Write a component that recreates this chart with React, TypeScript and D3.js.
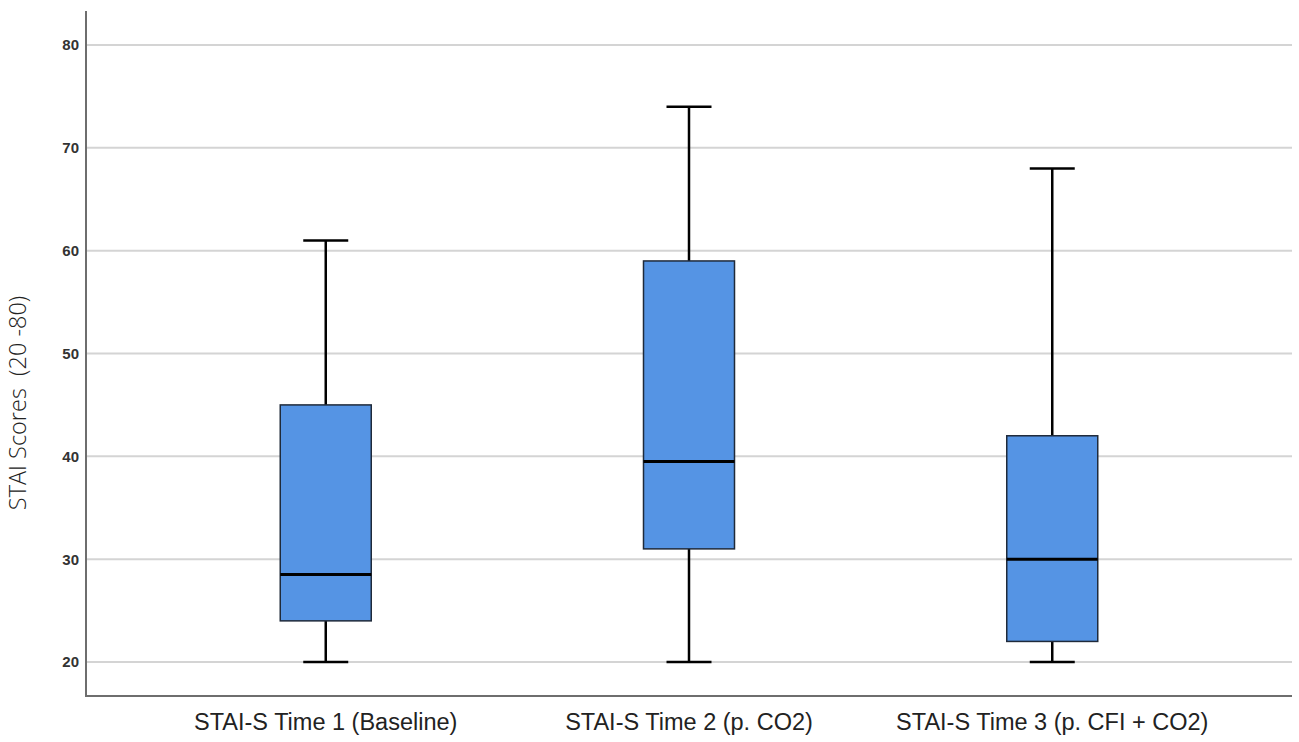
import React, { useEffect, useRef } from 'react';
import * as d3 from 'd3';

const categories = ['STAI-S Time 1 (Baseline)', 'STAI-S Time 2 (p. CO2)', 'STAI-S Time 3 (p. CFI + CO2)'];
const minValues = [20, 20, 20];
const q1Values = [24, 31, 22];
const medianValues = [28.5, 39.5, 30];
const q3Values = [45, 59, 42];
const maxValues = [61, 74, 68];
const yTicks = [20, 30, 40, 50, 60, 70, 80];

const WIDTH = 1299;
const HEIGHT = 742;

const App: React.FC = () => {
  const svgRef = useRef<SVGSVGElement>(null);

  useEffect(() => {
    if (!svgRef.current) return;
    const svg = d3.select(svgRef.current);
    svg.selectAll('*').remove();

    const left = 86;
    const right = 1292;
    const top = 11;
    const bottom = 696;

    const y = d3.scaleLinear().domain([20, 80]).range([662, 45]);
    const x = d3.scalePoint<string>().domain(categories).range([left, right]).padding(0.66);

    const boxW = 91;
    const capW = 45;

    // Grid lines
    svg
      .append('g')
      .selectAll('line')
      .data(yTicks)
      .enter()
      .append('line')
      .attr('x1', left)
      .attr('x2', right)
      .attr('y1', (d) => y(d))
      .attr('y2', (d) => y(d))
      .style('stroke', '#d4d4d4')
      .style('stroke-width', '2px');

    // Tick labels
    svg
      .append('g')
      .selectAll('text')
      .data(yTicks)
      .enter()
      .append('text')
      .attr('x', 79)
      .attr('y', (d) => y(d))
      .attr('dy', '0.36em')
      .attr('text-anchor', 'end')
      .style('font-family', 'Liberation Sans, Arial, sans-serif')
      .style('font-size', '15px')
      .style('font-weight', 'bold')
      .style('fill', '#333')
      .text((d) => d);

    // Axes
    svg
      .append('path')
      .attr('d', `M${left},${top}V${bottom}H${right}`)
      .style('fill', 'none')
      .style('stroke', '#6e6e6e')
      .style('stroke-width', '2px');

    const data = categories.map((c, i) => ({
      c,
      min: minValues[i],
      q1: q1Values[i],
      med: medianValues[i],
      q3: q3Values[i],
      max: maxValues[i],
    }));

    const g = svg.append('g').selectAll('g').data(data).enter().append('g');

    // Whiskers
    g.append('line')
      .attr('x1', (d) => x(d.c)!)
      .attr('x2', (d) => x(d.c)!)
      .attr('y1', (d) => y(d.max))
      .attr('y2', (d) => y(d.q3))
      .style('stroke', '#000')
      .style('stroke-width', '2.5px');
    g.append('line')
      .attr('x1', (d) => x(d.c)!)
      .attr('x2', (d) => x(d.c)!)
      .attr('y1', (d) => y(d.q1))
      .attr('y2', (d) => y(d.min))
      .style('stroke', '#000')
      .style('stroke-width', '2.5px');
    ['max', 'min'].forEach((k) => {
      g.append('line')
        .attr('x1', (d) => x(d.c)! - capW / 2)
        .attr('x2', (d) => x(d.c)! + capW / 2)
        .attr('y1', (d) => y((d as any)[k]))
        .attr('y2', (d) => y((d as any)[k]))
        .style('stroke', '#000')
        .style('stroke-width', '2.5px');
    });

    // Boxes
    g.append('rect')
      .attr('x', (d) => x(d.c)! - boxW / 2)
      .attr('width', boxW)
      .attr('y', (d) => y(d.q3))
      .attr('height', (d) => y(d.q1) - y(d.q3))
      .style('fill', '#5594e4')
      .style('stroke', '#1f2a3a')
      .style('stroke-width', '1.5px');

    // Median
    g.append('line')
      .attr('x1', (d) => x(d.c)! - boxW / 2)
      .attr('x2', (d) => x(d.c)! + boxW / 2)
      .attr('y1', (d) => y(d.med))
      .attr('y2', (d) => y(d.med))
      .style('stroke', '#000')
      .style('stroke-width', '3px');

    // X labels
    svg
      .append('g')
      .selectAll('text')
      .data(categories)
      .enter()
      .append('text')
      .attr('x', (d) => x(d)!)
      .attr('y', 730)
      .attr('text-anchor', 'middle')
      .style('font-family', 'Liberation Sans, Arial, sans-serif')
      .style('font-size', '23.5px')
      .style('fill', '#222')
      .text((d) => d);

    // Y title
    svg
      .append('text')
      .attr('transform', 'translate(26,403) rotate(-90)')
      .attr('text-anchor', 'middle')
      .style('font-family', 'Open Sans, sans-serif')
      .style('font-weight', '300')
      .style('font-size', '23.5px')
      .style('white-space', 'pre')
      .style('fill', '#222')
      .text('STAI Scores  (20 -80)');
  }, []);

  return (
    <svg
      ref={svgRef}
      width={WIDTH}
      height={HEIGHT}
      style={{ position: 'absolute', left: 0, top: 0, background: '#fff' }}
    />
  );
};

export default App;
